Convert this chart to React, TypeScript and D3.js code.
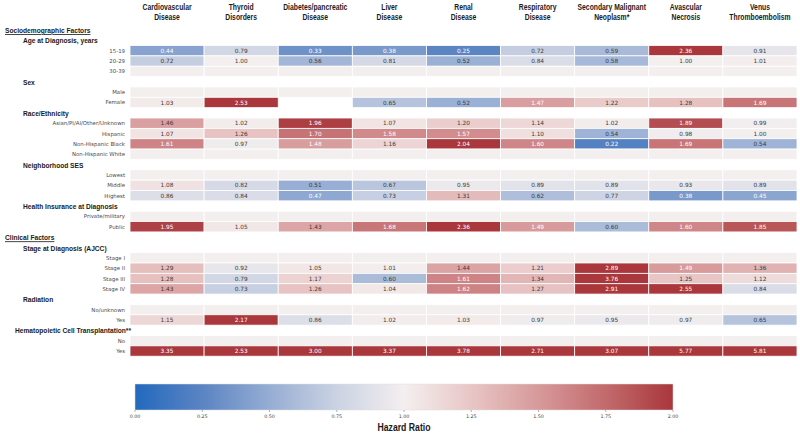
import React from "react";
import * as d3 from "d3";

// Outcome columns (two-line headers)
const outcomes = [
  ["Cardiovascular", "Disease"],
  ["Thyroid", "Disorders"],
  ["Diabetes/pancreatic", "Disease"],
  ["Liver", "Disease"],
  ["Renal", "Disease"],
  ["Respiratory", "Disease"],
  ["Secondary Malignant", "Neoplasm*"],
  ["Avascular", "Necrosis"],
  ["Venus", "Thromboembolism"],
];

// Covariate levels, in display order
const levels = [
  "15-19", "20-29", "30-39",
  "Male", "Female",
  "Asian/PI/AI/Other/Unknown", "Hispanic", "Non-Hispanic Black", "Non-Hispanic White",
  "Lowest", "Middle", "Highest",
  "Private/military", "Public",
  "Stage I", "Stage II", "Stage III", "Stage IV",
  "No/unknown", "Yes",
  "No", "Yes",
];

// Reference level of each covariate (HR fixed at 1, not annotated)
const referenceLevel = [
  false, false, true,
  true, false,
  false, false, false, true,
  true, false, false,
  true, false,
  true, false, false, false,
  true, false,
  true, false,
];

// Hazard ratios per outcome, aligned with `levels` (null = reference, NaN = not estimated)
const cardiovascular = [0.44, 0.72, null, null, 1.03, 1.46, 1.07, 1.61, null, null, 1.08, 0.86, null, 1.95, null, 1.29, 1.28, 1.43, null, 1.15, null, 3.35];
const thyroid = [0.79, 1.0, null, null, 2.53, 1.02, 1.26, 0.97, null, null, 0.82, 0.84, null, 1.05, null, 0.92, 0.79, 0.73, null, 2.17, null, 2.53];
const diabetes = [0.33, 0.56, null, null, NaN, 1.96, 1.7, 1.48, null, null, 0.51, 0.47, null, 1.43, null, 1.05, 1.17, 1.26, null, 0.86, null, 3.0];
const liver = [0.38, 0.81, null, null, 0.65, 1.07, 1.58, 1.16, null, null, 0.67, 0.73, null, 1.68, null, 1.01, 0.6, 1.04, null, 1.02, null, 3.37];
const renal = [0.25, 0.52, null, null, 0.52, 1.2, 1.57, 2.04, null, null, 0.95, 1.31, null, 2.36, null, 1.44, 1.61, 1.62, null, 1.03, null, 3.78];
const respiratory = [0.72, 0.84, null, null, 1.47, 1.14, 1.1, 1.6, null, null, 0.89, 0.62, null, 1.49, null, 1.21, 1.34, 1.27, null, 0.97, null, 2.71];
const secondaryNeoplasm = [0.59, 0.58, null, null, 1.22, 1.02, 0.54, 0.22, null, null, 0.89, 0.77, null, 0.6, null, 2.89, 3.76, 2.91, null, 0.95, null, 3.07];
const avascularNecrosis = [2.36, 1.0, null, null, 1.28, 1.89, 0.98, 1.69, null, null, 0.93, 0.38, null, 1.6, null, 1.49, 1.25, 2.55, null, 0.97, null, 5.77];
const venousThrombo = [0.91, 1.01, null, null, 1.69, 0.99, 1.0, 0.54, null, null, 0.89, 0.45, null, 1.85, null, 1.36, 1.12, 0.84, null, 0.65, null, 5.81];

const seriesByOutcome = [cardiovascular, thyroid, diabetes, liver, renal, respiratory, secondaryNeoplasm, avascularNecrosis, venousThrombo];

// Row structure: section headers, covariate headers, and level indices
type Line =
  | { kind: "section"; text: string }
  | { kind: "group"; text: string; x?: number }
  | { kind: "level"; index: number };

const lines: Line[] = [
  { kind: "section", text: "Sociodemographic Factors" },
  { kind: "group", text: "Age at Diagnosis, years" },
  { kind: "level", index: 0 }, { kind: "level", index: 1 }, { kind: "level", index: 2 },
  { kind: "group", text: "Sex" },
  { kind: "level", index: 3 }, { kind: "level", index: 4 },
  { kind: "group", text: "Race/Ethnicity" },
  { kind: "level", index: 5 }, { kind: "level", index: 6 }, { kind: "level", index: 7 }, { kind: "level", index: 8 },
  { kind: "group", text: "Neighborhood SES" },
  { kind: "level", index: 9 }, { kind: "level", index: 10 }, { kind: "level", index: 11 },
  { kind: "group", text: "Health Insurance at Diagnosis" },
  { kind: "level", index: 12 }, { kind: "level", index: 13 },
  { kind: "section", text: "Clinical Factors" },
  { kind: "group", text: "Stage at Diagnosis (AJCC)" },
  { kind: "level", index: 14 }, { kind: "level", index: 15 }, { kind: "level", index: 16 }, { kind: "level", index: 17 },
  { kind: "group", text: "Radiation" },
  { kind: "level", index: 18 }, { kind: "level", index: 19 },
  { kind: "group", text: "Hematopoietic Cell Transplantation**", x: 15 },
  { kind: "level", index: 20 }, { kind: "level", index: 21 },
];

const colorTicks = [0, 0.25, 0.5, 0.75, 1.0, 1.25, 1.5, 1.75, 2.0];

const W = 800;
const H = 433;
const headFont = "'Liberation Sans', Arial, sans-serif";
const plain = "'DejaVu Sans', sans-serif";
const NARROW = 0.82;

// Diverging blue–white–red map centred on HR = 1
const color = d3
  .scaleLinear<string>()
  .domain([0, 0.25, 0.5, 0.75, 1.0, 1.25, 1.5, 1.75, 2.0])
  .range(["#2369bd", "#5b84c3", "#96add3", "#cbd2e3", "#f4efef", "#e8c6c5", "#d7999a", "#c26a6c", "#a9373b"])
  .interpolate(d3.interpolateRgb)
  .clamp(true);

// Bold condensed label (horizontally compressed sans)
function NarrowText(props: {
  x: number;
  y: number;
  size: number;
  anchor?: "start" | "middle" | "end";
  underline?: boolean;
  children: React.ReactNode;
}) {
  const { x, y, size, anchor = "start", underline, children } = props;
  return (
    <g transform={`translate(${x},${y}) scale(${NARROW},1)`}>
      <text
        x={0}
        y={0}
        textAnchor={anchor}
        fontFamily={headFont}
        fontWeight="bold"
        fontSize={size}
        fill="#1a1a1a"
        textDecoration={underline ? "underline" : undefined}
      >
        {children}
      </text>
    </g>
  );
}

export default function App() {
  const x = d3.scaleBand<number>().domain(d3.range(outcomes.length)).range([130, 797]);
  const y = d3.scaleBand<number>().domain(d3.range(lines.length)).range([24.8, 356.2]);
  const cx = d3.scaleLinear().domain([0, 2]).range([135, 673]);
  const barTop = 384;
  const barH = 26;
  const gradStops = d3.range(0, 2.0001, 0.05);

  return (
    <svg width={W} height={H} style={{ position: "absolute", left: 0, top: 0, background: "#fff" }}>
      <defs>
        <linearGradient id="hr-grad" x1="0" x2="1" y1="0" y2="0">
          {gradStops.map((v) => (
            <stop key={v} offset={`${(v / 2) * 100}%`} stopColor={color(v)} />
          ))}
        </linearGradient>
      </defs>

      {/* column headers */}
      {outcomes.map((o, j) => {
        const mx = x(j)! + x.bandwidth() / 2;
        return (
          <g key={j}>
            <NarrowText x={mx} y={10} size={8.3} anchor="middle">{o[0]}</NarrowText>
            <NarrowText x={mx} y={20} size={8.3} anchor="middle">{o[1]}</NarrowText>
          </g>
        );
      })}

      {lines.map((ln, i) => {
        const yc = y(i)! + y.bandwidth() / 2;
        if (ln.kind === "section") {
          return (
            <NarrowText key={i} x={5} y={yc + 3.1} size={8.1} underline>
              {ln.text}
            </NarrowText>
          );
        }
        if (ln.kind === "group") {
          return (
            <NarrowText key={i} x={ln.x ?? 23} y={yc + 3.1} size={8.1}>
              {ln.text}
            </NarrowText>
          );
        }
        const li = ln.index;
        return (
          <g key={i}>
            <text x={125} y={yc + 2} textAnchor="end" fontFamily={plain} fontSize={5.4} fill="#4a4a4a">
              {levels[li]}
            </text>
            {seriesByOutcome.map((series, j) => {
              const raw = series[li];
              const isRef = referenceLevel[li];
              if (!isRef && (raw === null || Number.isNaN(raw))) return null;
              const v = isRef ? 1 : (raw as number);
              const light = v < 0.5 || v > 1.465;
              return (
                <g key={j}>
                  <rect
                    x={x(j)!}
                    y={y(i)!}
                    width={x.bandwidth()}
                    height={y.bandwidth()}
                    fill={color(v)}
                    stroke="#fff"
                    strokeWidth={0.8}
                  />
                  {!isRef && (
                    <text
                      x={x(j)! + x.bandwidth() / 2}
                      y={yc + 2.1}
                      textAnchor="middle"
                      fontFamily={plain}
                      fontSize={5.8}
                      fill={light ? "#fff" : "#3a3a3a"}
                    >
                      {d3.format(".2f")(v)}
                    </text>
                  )}
                </g>
              );
            })}
          </g>
        );
      })}

      {/* colour bar */}
      <rect x={cx(0)} y={barTop} width={cx(2) - cx(0)} height={barH} fill="url(#hr-grad)" stroke="#ddd" strokeWidth={0.5} />
      {colorTicks.map((t) => (
        <g key={t}>
          <line x1={cx(t)} x2={cx(t)} y1={barTop + barH} y2={barTop + barH + 2} stroke="#666" strokeWidth={0.5} />
          <text x={cx(t)} y={barTop + barH + 8} textAnchor="middle" fontFamily={plain} fontSize={4.8} fill="#444">
            {d3.format(".2f")(t)}
          </text>
        </g>
      ))}
      <NarrowText x={(cx(0) + cx(2)) / 2} y={431} size={10.6} anchor="middle">
        Hazard Ratio
      </NarrowText>
    </svg>
  );
}
